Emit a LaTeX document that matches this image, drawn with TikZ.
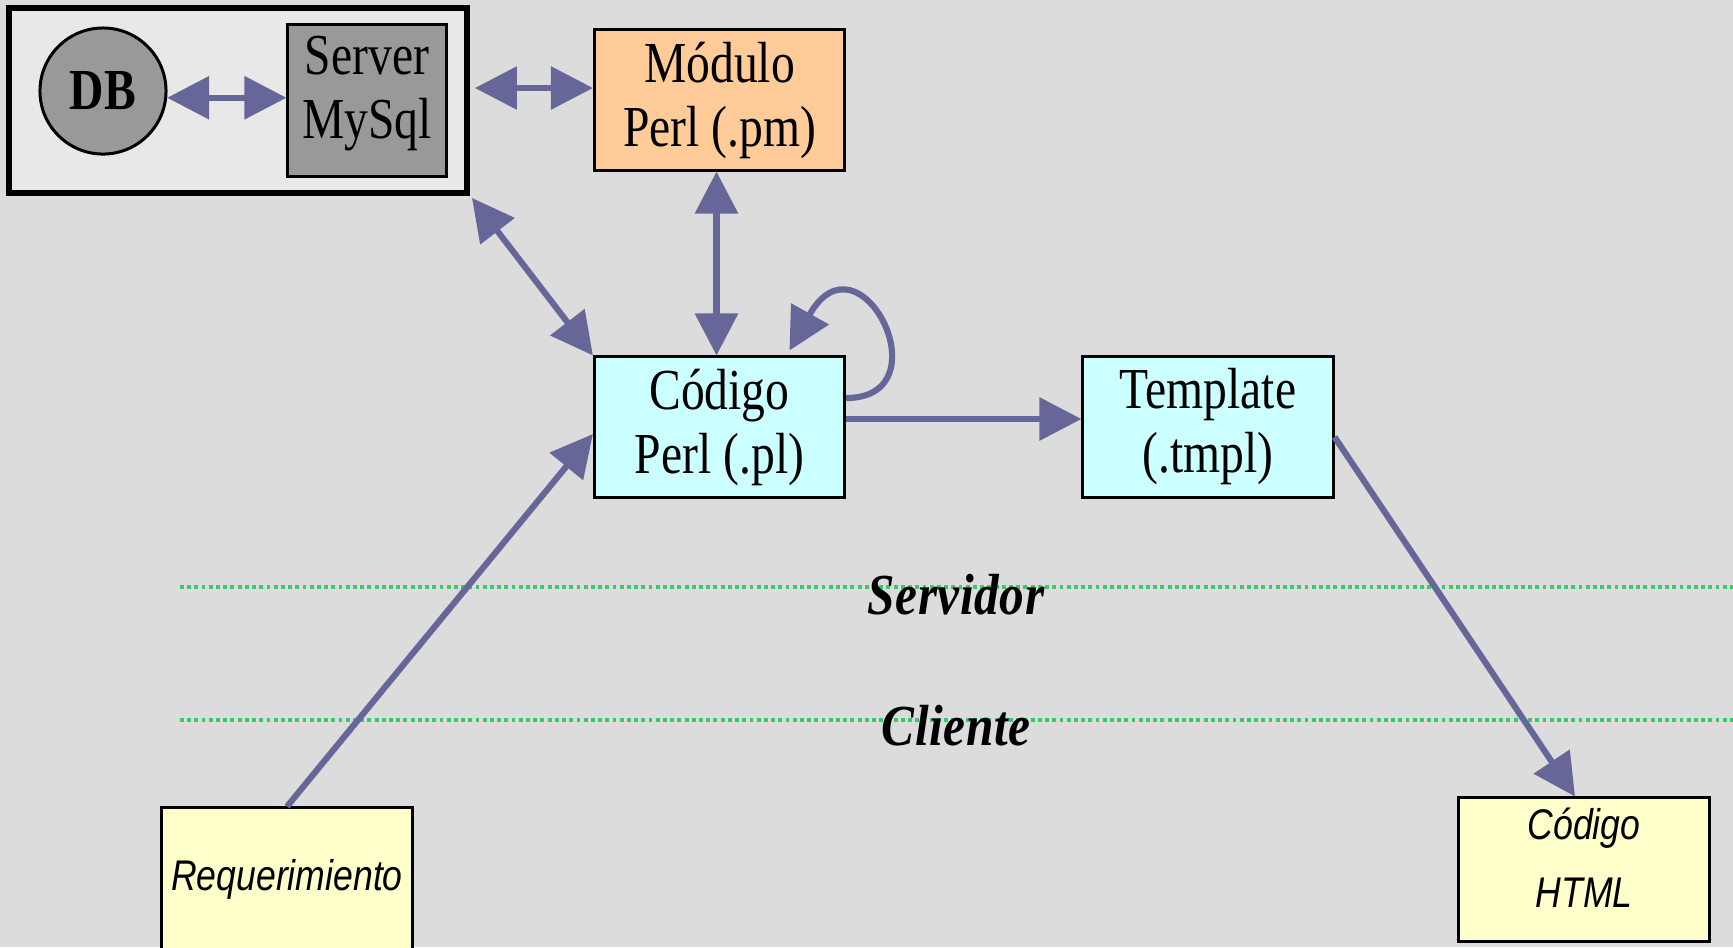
\documentclass[tikz,border=0pt]{standalone}
\usepackage{fontspec}
\setmainfont[FakeStretch=0.82]{Liberation Serif}
\newfontfamily\sansit[FakeStretch=0.83]{Liberation Sans}
\newfontfamily\lblfont[FakeStretch=0.85,LetterSpace=1]{Liberation Serif}
\usetikzlibrary{arrows.meta,calc}
\definecolor{bgc}{RGB}{220,220,220}
\definecolor{outerc}{RGB}{232,232,232}
\definecolor{greyc}{RGB}{153,153,153}
\definecolor{orangec}{RGB}{255,204,153}
\definecolor{cyanc}{RGB}{204,255,255}
\definecolor{yellowc}{RGB}{255,255,204}
\definecolor{arrowc}{RGB}{102,102,153}
\definecolor{greenc}{RGB}{51,204,102}
\begin{document}
\begin{tikzpicture}[x=0.01cm,y=-0.01cm,
  arr/.style={draw=arrowc, line width=1.75pt, -{Triangle[length=0.42cm,width=0.42cm]}},
  darr/.style={draw=arrowc, line width=1.75pt, {Triangle[length=0.42cm,width=0.42cm]}-{Triangle[length=0.42cm,width=0.42cm]}},
  box/.style={draw=black, line width=0.85pt, inner sep=0pt, align=center,
    minimum width=2.5cm, minimum height=1.4cm, font=\fontsize{16.5}{18.2}\selectfont},
  sbox/.style={box, fill=yellowc, font=\sansit\itshape\fontsize{12.2}{19.3}\selectfont, minimum height=1.43cm},
  sep/.style={draw=greenc, line width=1.1pt, dash pattern=on 1.1pt off 0.95pt},
  zone/.style={font=\lblfont\bfseries\itshape\fontsize{16.5}{18}\selectfont, inner sep=0pt}
]
\useasboundingbox (0,0) rectangle (1733,947);
\fill[bgc] (0,0) rectangle (1733,947);

% separators
\draw[sep] (180,587) -- (1733,587);
\draw[sep] (180,720) -- (1733,720);
\node[zone] (servidor) at (956,595) {Servidor};
\node[zone] (cliente) at (956,726) {Cliente};

% server group
\node[draw=black, line width=1.6pt, fill=outerc, minimum width=4.58cm, minimum height=1.85cm, inner sep=0pt] (outer) at (238,100.5) {};
\node[circle, draw=black, line width=0.85pt, fill=greyc, minimum size=1.26cm, inner sep=0pt,
  font=\bfseries\fontsize{16.5}{18}\selectfont] (db) at (103,91) {DB};
\node[box, fill=greyc, minimum width=1.58cm, minimum height=1.51cm] (mysql) at (367,100.5) {Server\\MySql\\[-10.5pt]~};

% main boxes
\node[box, fill=orangec] (modulo) at (719.5,100) {Módulo\\Perl (.pm)};
\node[box, fill=cyanc] (codigo) at (719.5,427) {Código\\Perl (.pl)};
\node[box, fill=cyanc] (template) at (1208,427) {Template\\(.tmpl)};
\node[sbox] (html) at (1584,869.5) {Código\\HTML\\[-12.5pt]~};
\node[sbox] (req) at (287,879.5) {Requerimiento};

% connectors
\draw[darr] (db.-6) -- (db.-6 -| mysql.west);
\draw[darr] ($(outer.east)+(5,-12.5)$) -- ($(modulo.west)+(0,-12)$);
\draw[darr] ($(outer.south east)+(2,2)$) -- (codigo.north west);
\draw[darr] ($(modulo.south)+(-3,0)$) -- ($(codigo.north)+(-3,0)$);
\draw[arr] ($(codigo.east)+(0,-29)$) .. controls +(100,0) and +(70,-125) .. ($(codigo.north)+(70,-5)$);
\draw[arr] ($(codigo.east)+(0,-8)$) -- ($(template.west)+(0,-8)$);
\draw[arr] ($(template.east)+(0,10)$) -- ($(html.north)+(-9,0)$);
\draw[arr] (req.north) -- ($(codigo.west)+(0,7)$);
\end{tikzpicture}
\end{document}
